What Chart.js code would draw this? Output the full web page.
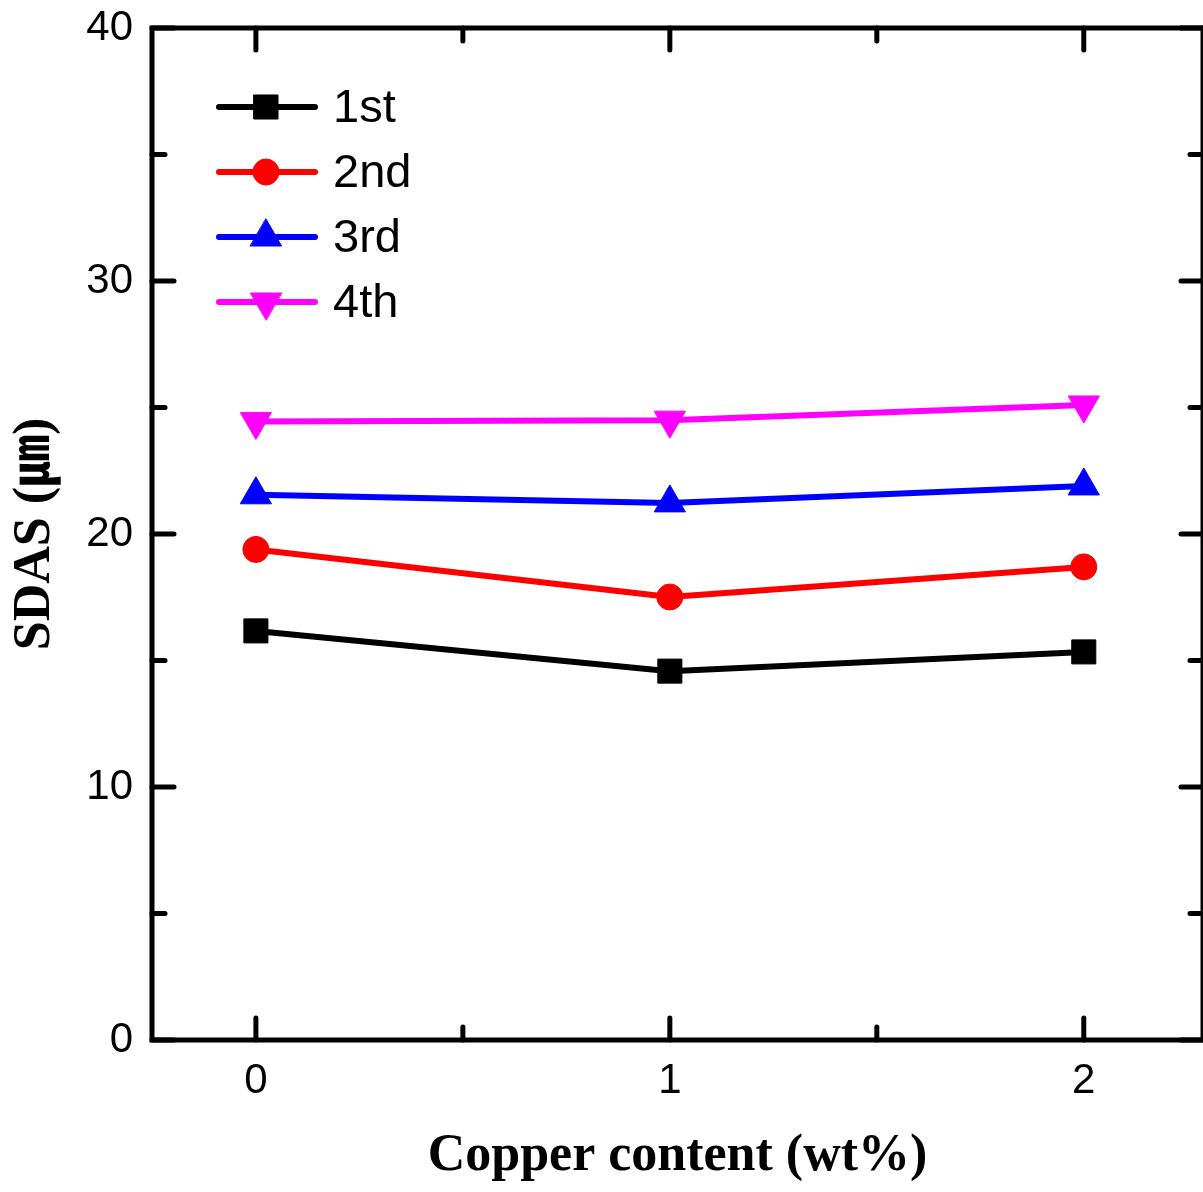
<!DOCTYPE html>
<html>
<head>
<meta charset="utf-8">
<script src="https://cdn.jsdelivr.net/npm/chart.js@4.4.1/dist/chart.umd.min.js"></script>
<style>
body{margin:0;background:#fff;}
#wrap{width:1203px;height:1192px;}
</style>
</head>
<body>
<div id="wrap"><canvas id="chart"></canvas></div>
<script>

/* ================= DATA ================= */

let copper = [0, 1, 2];
let seriesNames = ["1st", "2nd", "3rd", "4th"];
let first = [16.17, 14.58, 15.34];
let second = [19.39, 17.51, 18.70];
let third = [21.55, 21.23, 21.90];
let fourth = [24.45, 24.50, 25.10];
let xTicks = [0, 1, 2];
let xMinor = [0.5, 1.5];
let yTicks = [0, 10, 20, 30, 40];
let yMinor = [5, 15, 25, 35];

/* ================= STYLE ================= */

let colors = ["#000000", "#ff0000", "#0000ff", "#ff00ff"];
let styles = ["rect", "circle", "triangle", "triangle"];
let radii = [17, 13, 18, 18];
let rotations = [0, 0, 0, 180];

let sansFont = "'Liberation Sans', Arial, sans-serif";
let serifFont = "'Liberation Serif', 'Times New Roman', 'Noto Sans CJK JP', serif";

function points(values){
return copper.map((c,i)=>({x:c, y:values[i]}));
}

let allSeries = [first, second, third, fourth];

let datasets = allSeries.map((s,i)=>({
label: seriesNames[i],
data: points(s),
borderColor: colors[i],
backgroundColor: colors[i],
borderWidth: 6,
pointStyle: styles[i],
pointRadius: radii[i],
pointHoverRadius: radii[i],
pointRotation: rotations[i],
pointBorderWidth: 1,
tension: 0,
clip: false
}));

/* ================= FRAME + INNER TICKS ================= */

let framePlugin = {
id: "frame",
beforeDatasetsDraw(chart){
let ctx = chart.ctx;
let a = chart.chartArea;
let xs = chart.scales.x;
let ys = chart.scales.y;
ctx.save();
ctx.strokeStyle = "#000";
ctx.lineWidth = 5;
ctx.lineCap = "butt";
ctx.strokeRect(a.left, a.top, a.right - a.left, a.bottom - a.top);

function tick(x1,y1,x2,y2){
ctx.beginPath();
ctx.moveTo(x1,y1);
ctx.lineTo(x2,y2);
ctx.stroke();
}
ctx.lineCap = "round";
let major = 22, minor = 13;
xTicks.forEach(v=>{
let px = xs.getPixelForValue(v);
tick(px, a.bottom, px, a.bottom - major);
tick(px, a.top, px, a.top + major);
});
xMinor.forEach(v=>{
let px = xs.getPixelForValue(v);
tick(px, a.bottom, px, a.bottom - minor);
tick(px, a.top, px, a.top + minor);
});
yTicks.forEach(v=>{
let py = ys.getPixelForValue(v);
tick(a.left, py, a.left + major, py);
tick(a.right, py, a.right - major, py);
});
yMinor.forEach(v=>{
let py = ys.getPixelForValue(v);
tick(a.left, py, a.left + minor, py);
tick(a.right, py, a.right - minor, py);
});
ctx.restore();
}
};

/* ================= LEGEND ================= */

let legendPlugin = {
id: "customLegend",
afterDraw(chart){
let ctx = chart.ctx;
let rowY = [107, 172, 237, 302];
ctx.save();
chart.data.datasets.forEach((d,i)=>{
let y = rowY[i];
ctx.strokeStyle = d.borderColor;
ctx.lineWidth = 6;
ctx.lineCap = "round";
ctx.beginPath();
ctx.moveTo(219, y);
ctx.lineTo(315, y);
ctx.stroke();
ctx.fillStyle = d.backgroundColor;
ctx.lineWidth = 1;
Chart.helpers.drawPoint(ctx, {
pointStyle: d.pointStyle,
radius: d.pointRadius,
rotation: d.pointRotation,
borderWidth: 1
}, 266, y);
ctx.fillStyle = "#000";
ctx.font = "47px " + sansFont;
ctx.textAlign = "left";
ctx.textBaseline = "middle";
ctx.fillText(d.label, 333, y + 2);
});
ctx.restore();
}
};

/* ================= CHART ================= */

new Chart(document.getElementById("chart"), {
type: "line",
data: { datasets: datasets },
plugins: [framePlugin, legendPlugin],
options: {
responsive: true,
maintainAspectRatio: false,
animation: false,
events: [],
layout: { autoPadding: false, padding: { top: 28, right: 0, left: 0, bottom: 0 } },
plugins: {
legend: { display: false },
tooltip: { enabled: false }
},
scales: {
x: {
type: "linear",
min: -0.251,
max: 2.288,
afterFit(scale){
scale.height = 152;
scale.paddingLeft = 0;
scale.paddingRight = 0;
},
afterBuildTicks(scale){ scale.ticks = xTicks.map(v=>({value:v})); },
grid: { display: false, drawTicks: false },
border: { display: false },
ticks: {
padding: 16,
color: "#000",
font: { family: sansFont, size: 42 },
callback: v => String(v)
},
title: {
display: true,
text: "Copper content (wt%)",
color: "#000",
font: { family: serifFont, size: 52, weight: "bold" },
padding: { top: 0, bottom: 4 }
}
},
y: {
min: 0,
max: 40,
afterFit(scale){
scale.width = 152;
scale.paddingTop = 0;
scale.paddingBottom = 0;
},
afterBuildTicks(scale){ scale.ticks = yTicks.map(v=>({value:v})); },
grid: { display: false, drawTicks: false },
border: { display: false },
ticks: {
padding: 19,
color: "#000",
font: { family: sansFont, size: 42 }
},
title: {
display: true,
text: "SDAS (\u339B)",
color: "#000",
font: { family: serifFont, size: 52, weight: "bold" },
padding: { top: 4, bottom: 0 }
}
}
}
}
});

</script>
</body>
</html>
